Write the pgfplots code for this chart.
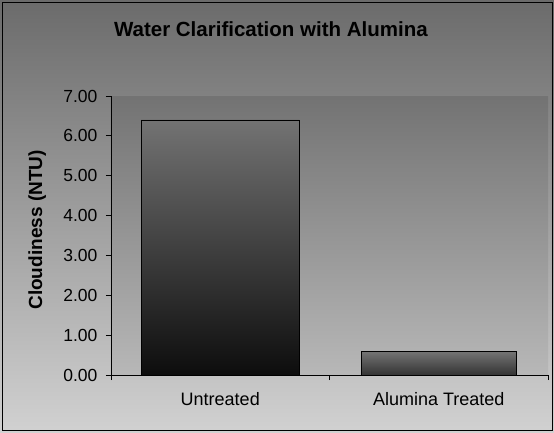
\documentclass[border=0pt]{standalone}
\usepackage{fontspec}
\setmainfont{Liberation Sans}
\usepackage{pgfplots}
\pgfplotsset{compat=1.18}
\begin{document}
\begin{tikzpicture}
\useasboundingbox (-111pt,-57pt) rectangle (443pt,375pt);
\shade[top color=black!58, bottom color=black!18] (-111pt,-57pt) rectangle (443pt,375pt);
\draw[black, line width=0.8pt] (-109pt,-55pt) rectangle (441pt,373pt);
\begin{axis}[
  at={(0pt,0pt)}, anchor=south west,
  scale only axis, width=437pt, height=279pt,
  xmin=-0.5, xmax=1.5, ymin=0, ymax=7,
  axis x line*=bottom, axis y line*=left,
  axis line style={black, line width=0.8pt},
  axis background/.style={shade, top color=black!55, bottom color=black!28},
  tick align=outside, major tick length=5pt,
  tick style={black, line width=0.8pt},
  xtick={-0.5,0.5,1.5}, xticklabels={},
  extra x ticks={0,1},
  extra x tick labels={Untreated, Alumina Treated},
  extra x tick style={major tick length=0pt, tick label style={yshift=-14pt, font=\fontsize{18}{20}\selectfont}},
  ytick={0,1,...,7},
  yticklabel style={/pgf/number format/.cd, fixed, fixed zerofill, precision=2, /tikz/.cd, font=\fontsize{17.5}{19}\selectfont, xshift=-5pt},
  /pgf/number format/assume math mode=true,
  ylabel={\textbf{Cloudiness (NTU)}},
  ylabel style={at={(axis description cs:-0.169,0.52)}, anchor=center, font=\fontsize{19}{21}\selectfont},
  title={\textbf{Water Clarification with Alumina}},
  title style={at={(axis description cs:0.366,1.219)}, anchor=center, font=\fontsize{20.5}{23}\selectfont},
  clip=false,
]
\addplot[ybar, bar width=158pt, draw=black, line width=0.8pt, top color=black!55, bottom color=black!95] coordinates {(0,6.40)};
\addplot[ybar, bar width=155pt, draw=black, line width=0.8pt, top color=black!55, bottom color=black!80] coordinates {(1,0.58)};
\end{axis}
\end{tikzpicture}
\end{document}
